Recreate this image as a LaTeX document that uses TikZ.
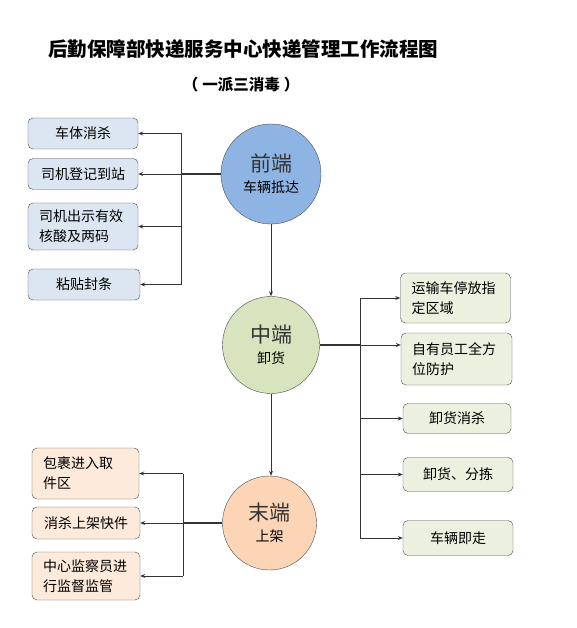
\documentclass[tikz,border=0pt]{standalone}
\usepackage{fontspec}
\setmainfont{Noto Sans CJK SC}
\usetikzlibrary{arrows.meta}

\definecolor{qianblue}{RGB}{142,180,227}
\definecolor{zhonggreen}{RGB}{215,228,189}
\definecolor{mopeach}{RGB}{251,213,181}
\definecolor{boxblue}{RGB}{220,230,242}
\definecolor{boxgreen}{RGB}{235,241,222}
\definecolor{boxpeach}{RGB}{253,234,218}

\begin{document}
\begin{tikzpicture}[x=1pt, y=-1pt,
    >={Stealth[length=5pt,width=4pt]},
    box/.style={draw=black!70, rounded corners=5pt, inner xsep=11pt,
        font=\fontsize{14}{20}\selectfont},
    oneline/.style={box, align=center, minimum width=110pt, minimum height=31pt},
    twoline/.style={box, align=left, text width=88pt},
    stage/.style={circle, draw=black!70, align=center, inner sep=0pt,
        font=\fontsize{14}{18}\selectfont},
    link/.style={->, draw=black!80, line width=0.8pt},
    trunk/.style={draw=black!80, line width=1.6pt}]

    \useasboundingbox (0,0) rectangle (577,628);

    % title
    \node[font=\bfseries\fontsize{19.5}{22}\selectfont] (title) at (243,49)
        {后勤保障部快递服务中心快递管理工作流程图};
    \node[font=\bfseries\fontsize{15.5}{18}\selectfont] (subtitle) at (241,85)
        {（\hspace{4pt}一派三消毒\hspace{4pt}）};

    % the three stages
    \node[stage, fill=qianblue, minimum size=100pt] (qian) at (271,174)
        {{\fontsize{21}{24}\selectfont\color{black!80}前端}\\[3pt]车辆抵达};
    \node[stage, fill=zhonggreen, minimum size=97pt] (zhong) at (271,345)
        {{\fontsize{21}{24}\selectfont\color{black!80}中端}\\[3pt]卸货};
    \node[stage, fill=mopeach, minimum size=94pt] (mo) at (269.5,523)
        {{\fontsize{21}{24}\selectfont\color{black!80}末端}\\[3pt]上架};

    % front end boxes
    \node[oneline, fill=boxblue] (xiaosha) at (83,133.5) {车体消杀};
    \node[oneline, fill=boxblue] (dengji) at (83,174) {司机登记到站};
    \node[twoline, fill=boxblue, minimum height=47pt] (hesuan) at (83,226.5)
        {司机出示有效\\核酸及两码};
    \node[oneline, fill=boxblue, minimum width=112pt] (fengtiao) at (84,284.5) {粘贴封条};

    % middle boxes
    \node[twoline, fill=boxgreen, minimum height=50pt] (tingfang) at (455.5,298)
        {运输车停放指\\定区域};
    \node[twoline, fill=boxgreen, text width=89pt, minimum height=52pt] (fanghu) at (456.5,359)
        {自有员工全方\\位防护};
    \node[oneline, fill=boxgreen, minimum width=108pt, minimum height=30pt] (xiehuo) at (457,418.5) {卸货消杀};
    \node[oneline, fill=boxgreen, minimum height=34pt] (fenjian) at (458,474.5) {卸货、分拣};
    \node[oneline, fill=boxgreen, minimum height=35pt] (jizou) at (458,538) {车辆即走};

    % end boxes
    \node[twoline, fill=boxpeach, text width=85pt, minimum height=51pt] (quhuo) at (85.5,473.5)
        {包裹进入取\\件区};
    \node[oneline, fill=boxpeach, minimum width=108pt, minimum height=32pt] (shangjia) at (86,523) {消杀上架快件};
    \node[twoline, fill=boxpeach, text width=86pt, minimum height=48pt] (jianguan) at (86,576)
        {中心监察员进\\行监督监管};

    % connectors
    \coordinate (busL) at (181,0);
    \coordinate (busR) at (360,0);
    \coordinate (busB) at (183,0);

    \draw[trunk] (qian.west) -- (qian.west -| busL);
    \draw[link, -] (busL |- xiaosha.east) -- (busL |- fengtiao.east);
    \foreach \b in {xiaosha,dengji,hesuan,fengtiao}
        \draw[link] (busL |- \b.east) -- (\b.east);

    \draw[trunk] (zhong.east) -- (zhong.east -| busR);
    \draw[link, -] (busR |- tingfang.west) -- (busR |- jizou.west);
    \foreach \b in {tingfang,xiehuo,fenjian,jizou}
        \draw[link] (busR |- \b.west) -- (\b.west);
    \draw[link] (busR |- zhong.east) -- (fanghu.west |- zhong.east);

    \draw[trunk] (mo.west) -- (mo.west -| busB);
    \draw[link, -] (busB |- quhuo.east) -- (busB |- jianguan.east);
    \foreach \b in {quhuo,shangjia,jianguan}
        \draw[link] (busB |- \b.east) -- (\b.east);

    \draw[link] (qian) -- (zhong);
    \draw[link] (zhong.south) -- (zhong.south |- mo.north);
\end{tikzpicture}
\end{document}
